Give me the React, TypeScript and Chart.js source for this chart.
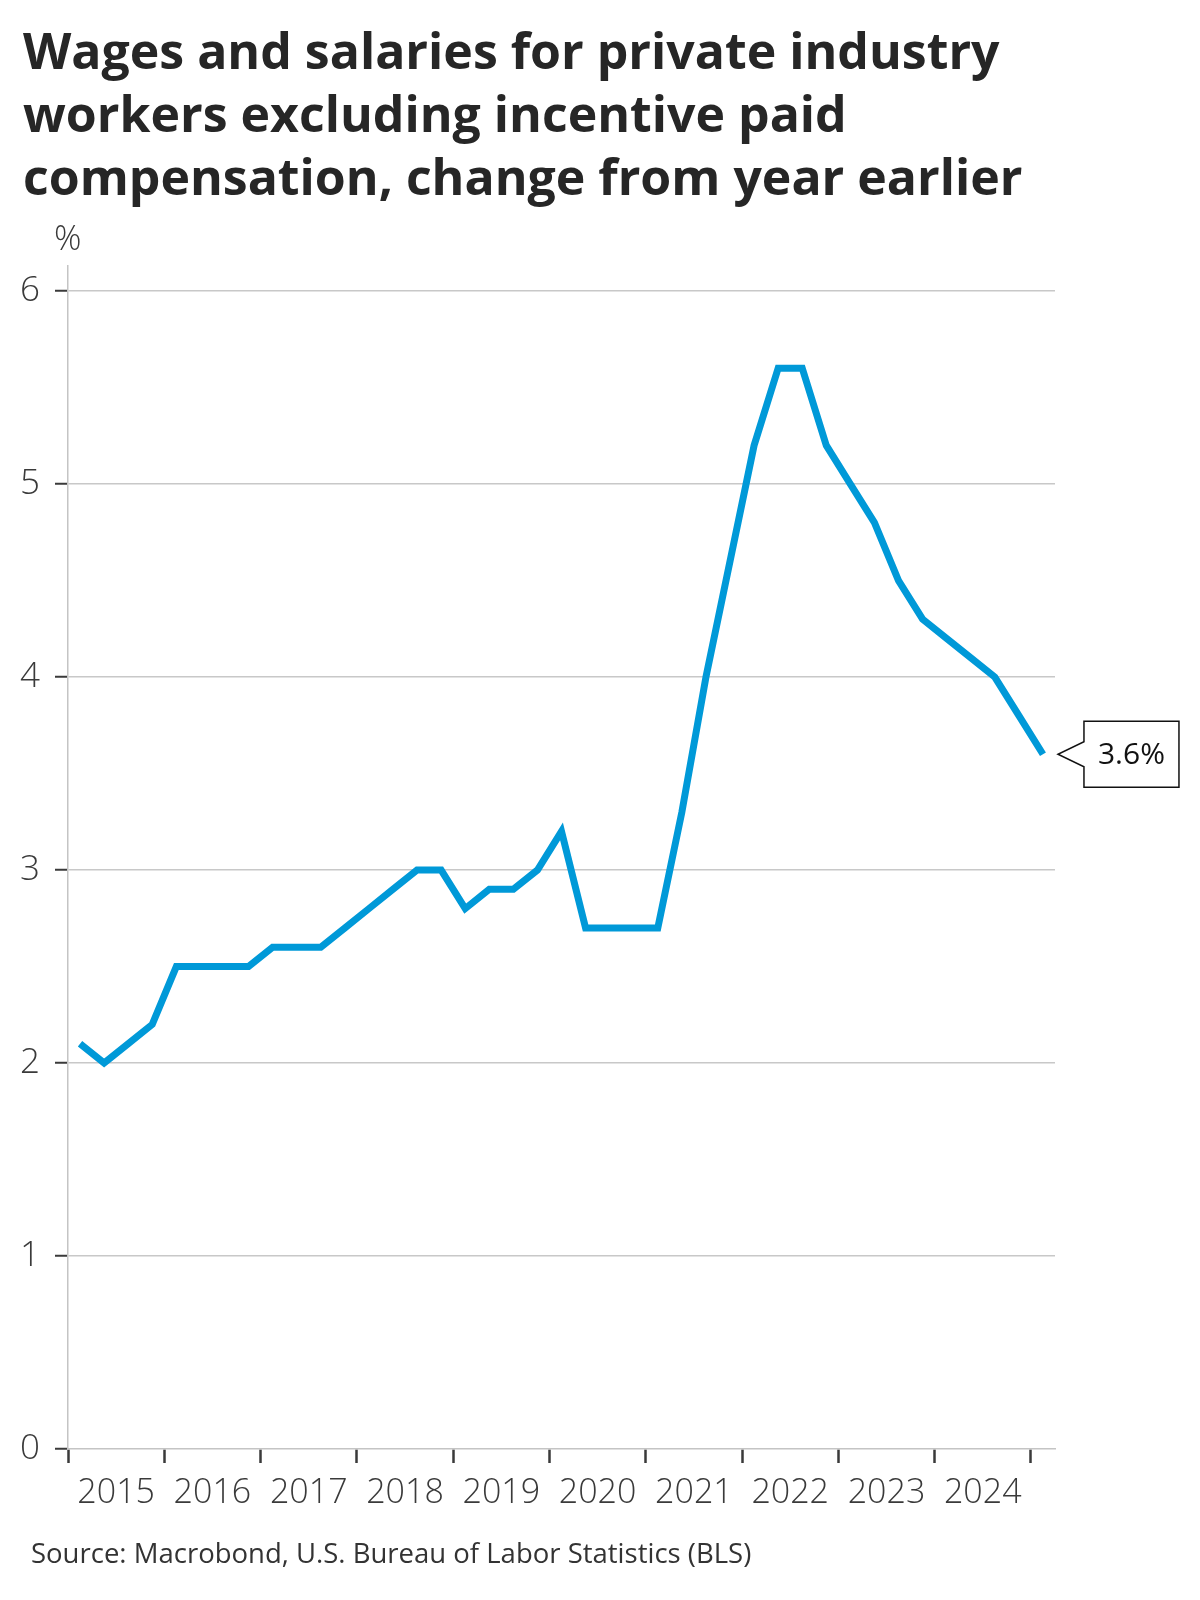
import { useEffect, useRef } from "react";
import { Chart, registerables } from "chart.js";

Chart.register(...registerables);

const FONT = "'Open Sans', 'Noto Sans', sans-serif";

const TITLE_LINES = [
  "Wages and salaries for private industry",
  "workers excluding incentive paid",
  "compensation, change from year earlier",
];
const UNIT_LABEL = "%";
const SOURCE = "Source: Macrobond, U.S. Bureau of Labor Statistics (BLS)";

// quarterly, 2015 Q1 .. 2025 Q1
const QUARTERS = [
  "2015 Q1", "2015 Q2", "2015 Q3", "2015 Q4",
  "2016 Q1", "2016 Q2", "2016 Q3", "2016 Q4",
  "2017 Q1", "2017 Q2", "2017 Q3", "2017 Q4",
  "2018 Q1", "2018 Q2", "2018 Q3", "2018 Q4",
  "2019 Q1", "2019 Q2", "2019 Q3", "2019 Q4",
  "2020 Q1", "2020 Q2", "2020 Q3", "2020 Q4",
  "2021 Q1", "2021 Q2", "2021 Q3", "2021 Q4",
  "2022 Q1", "2022 Q2", "2022 Q3", "2022 Q4",
  "2023 Q1", "2023 Q2", "2023 Q3", "2023 Q4",
  "2024 Q1", "2024 Q2", "2024 Q3", "2024 Q4",
  "2025 Q1",
];
const WAGE_GROWTH = [
  2.1, 2.0, 2.1, 2.2,
  2.5, 2.5, 2.5, 2.5,
  2.6, 2.6, 2.6, 2.7,
  2.8, 2.9, 3.0, 3.0,
  2.8, 2.9, 2.9, 3.0,
  3.2, 2.7, 2.7, 2.7,
  2.7, 3.3, 4.0, 4.6,
  5.2, 5.6, 5.6, 5.2,
  5.0, 4.8, 4.5, 4.3,
  4.2, 4.1, 4.0, 3.8,
  3.6,
];
const YEAR_LABELS = [
  "2015", "2016", "2017", "2018", "2019",
  "2020", "2021", "2022", "2023", "2024",
];
const Y_TICKS = [0, 1, 2, 3, 4, 5, 6];
const LAST_LABEL = "3.6%";

// quarter label -> decimal year at mid-quarter
function quarterToYear(q: string) {
  const [y, qq] = q.split(" Q");
  return Number(y) + (Number(qq) - 1) / 4 + 0.125;
}

const calloutPlugin = {
  id: "callout",
  afterDatasetsDraw(chart: Chart) {
    const meta = chart.getDatasetMeta(0);
    const pt = meta.data[meta.data.length - 1];
    if (!pt) return;
    const { ctx } = chart;
    const x = pt.x;
    const y = pt.y;
    const tipX = x + 15;
    const left = x + 41;
    const right = x + 136;
    const top = y - 33;
    const bottom = y + 33;
    ctx.save();
    ctx.beginPath();
    ctx.moveTo(left, top);
    ctx.lineTo(right, top);
    ctx.lineTo(right, bottom);
    ctx.lineTo(left, bottom);
    ctx.lineTo(left, y + 12.5);
    ctx.lineTo(tipX, y);
    ctx.lineTo(left, y - 12.5);
    ctx.closePath();
    ctx.fillStyle = "#ffffff";
    ctx.fill();
    ctx.strokeStyle = "#111111";
    ctx.lineWidth = 1.5;
    ctx.stroke();
    ctx.fillStyle = "#111111";
    ctx.font = `30px ${FONT}`;
    ctx.textAlign = "center";
    ctx.textBaseline = "middle";
    ctx.fillText(LAST_LABEL, (left + right) / 2, y + 1);
    ctx.restore();
  },
};

export default function App() {
  const canvasRef = useRef<HTMLCanvasElement>(null);
  const chartRef = useRef<Chart | null>(null);

  useEffect(() => {
    document.body.style.margin = "0";
    const canvas = canvasRef.current;
    if (!canvas) return;
    const ctx = canvas.getContext("2d");
    if (!ctx) return;

    chartRef.current?.destroy();

    const points = QUARTERS.map((q, i) => ({
      x: quarterToYear(q),
      y: WAGE_GROWTH[i],
    }));
    const firstYear = Number(YEAR_LABELS[0]);
    const lastYear = Number(YEAR_LABELS[YEAR_LABELS.length - 1]) + 1;

    chartRef.current = new Chart(ctx, {
      type: "line",
      data: {
        datasets: [
          {
            data: points,
            borderColor: "#0099d8",
            borderWidth: 7,
            borderJoinStyle: "miter",
            pointRadius: 0,
            tension: 0,
            fill: false,
          },
        ],
      },
      options: {
        animation: false,
        responsive: true,
        maintainAspectRatio: false,
        layout: { padding: { left: 0, right: 145, top: 266, bottom: 0 } },
        plugins: {
          legend: { display: false },
          tooltip: { enabled: false },
        },
        scales: {
          x: {
            type: "linear",
            min: firstYear,
            max: 2025.25,
            afterBuildTicks(scale) {
              const ticks = [];
              for (let yv = firstYear; yv <= lastYear; yv++) {
                ticks.push({ value: yv });
              }
              YEAR_LABELS.forEach((l) => ticks.push({ value: Number(l) + 0.5 }));
              ticks.sort((a, b) => a.value - b.value);
              scale.ticks = ticks;
            },
            afterFit(scale) {
              scale.height = 151;
            },
            border: { display: true, color: "#c4c4c4", width: 1.5 },
            grid: {
              drawOnChartArea: false,
              drawTicks: true,
              tickLength: 14,
              tickWidth: 2.5,
              tickColor: (c) =>
                Number.isInteger(c.tick?.value) ? "#3a3a3a" : "rgba(0,0,0,0)",
            },
            ticks: {
              autoSkip: false,
              maxRotation: 0,
              padding: 10,
              color: "#3a3a3a",
              font: { family: FONT, size: 34, weight: 300 },
              callback(v) {
                const n = Number(v);
                if (Number.isInteger(n)) return "";
                return String(Math.floor(n));
              },
            },
          },
          y: {
            min: 0,
            max: 6.13,
            afterBuildTicks(scale) {
              scale.ticks = Y_TICKS.map((v) => ({ value: v }));
            },
            afterFit(scale) {
              scale.width = 68;
            },
            border: { display: true, color: "#c4c4c4", width: 1.5 },
            grid: {
              color: (c) => (c.tick?.value === 0 ? "rgba(0,0,0,0)" : "#c8c8c8"),
              lineWidth: 1.5,
              drawTicks: true,
              tickLength: 13,
              tickWidth: 2,
              tickColor: "#3a3a3a",
            },
            ticks: {
              padding: 15,
              color: "#3a3a3a",
              font: { family: FONT, size: 35, weight: 300 },
            },
          },
        },
      },
      plugins: [calloutPlugin],
    });

    return () => {
      chartRef.current?.destroy();
      chartRef.current = null;
    };
  }, []);

  return (
    <div
      style={{
        position: "relative",
        width: 1200,
        height: 1600,
        background: "#ffffff",
        fontFamily: FONT,
        overflow: "hidden",
      }}
    >
      <div style={{ position: "absolute", inset: 0 }}>
        <canvas ref={canvasRef} />
      </div>
      <div
        style={{
          position: "absolute",
          left: 23,
          top: 19,
          fontSize: 50,
          lineHeight: "63px",
          fontWeight: 700,
          color: "#262626",
          whiteSpace: "nowrap",
        }}
      >
        {TITLE_LINES.map((l) => (
          <div key={l}>{l}</div>
        ))}
      </div>
      <div
        style={{
          position: "absolute",
          left: 54,
          top: 214,
          fontSize: 34,
          fontWeight: 300,
          color: "#3a3a3a",
        }}
      >
        {UNIT_LABEL}
      </div>
      <div
        style={{
          position: "absolute",
          left: 31,
          top: 1534,
          fontSize: 27.5,
          color: "#333333",
        }}
      >
        {SOURCE}
      </div>
    </div>
  );
}
